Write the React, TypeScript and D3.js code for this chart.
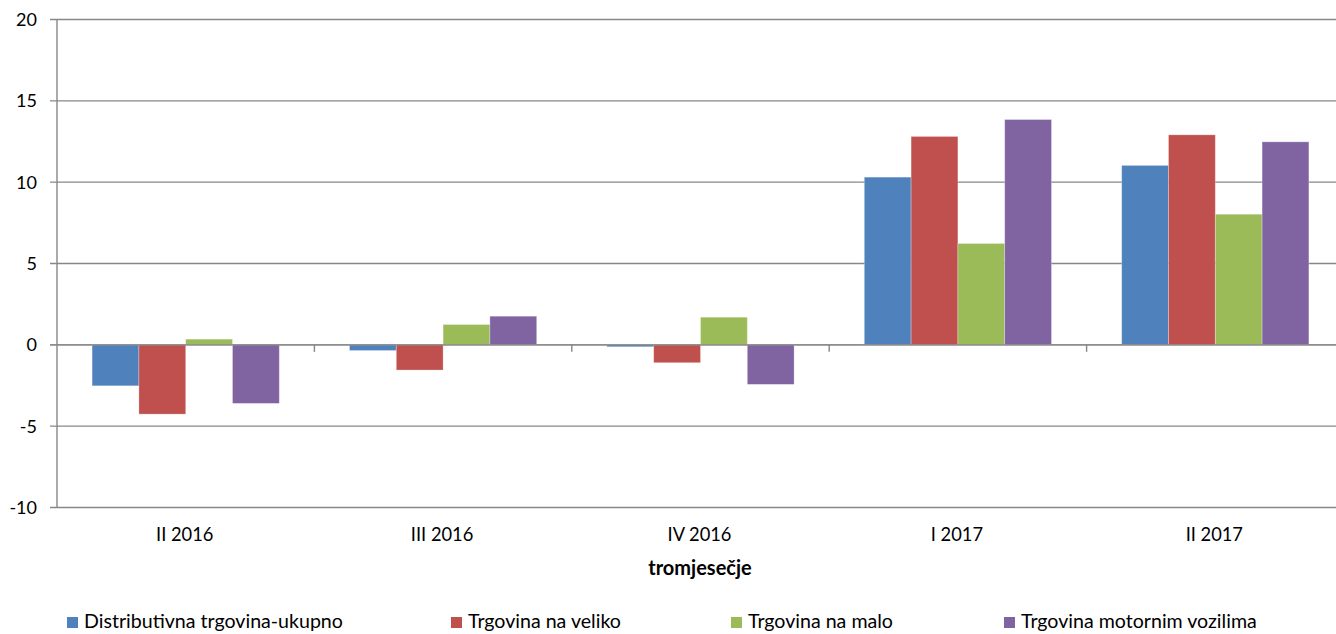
import * as d3 from "d3";

const categories = ["II 2016", "III 2016", "IV 2016", "I 2017", "II 2017"];
const seriesNames = [
  "Distributivna trgovina-ukupno",
  "Trgovina na veliko",
  "Trgovina na malo",
  "Trgovina motornim vozilima",
];
const ukupno = [-2.52, -0.35, -0.12, 10.31, 11.03];
const veliko = [-4.26, -1.55, -1.1, 12.81, 12.91];
const malo = [0.35, 1.25, 1.7, 6.23, 8.03];
const vozila = [-3.6, 1.76, -2.43, 13.85, 12.48];
const yTicks = [-10, -5, 0, 5, 10, 15, 20];
const colors = ["#4F81BD", "#C0504D", "#9BBB59", "#8064A2"];
const axisTitle = "tromjesečje";

const seriesValues = [ukupno, veliko, malo, vozila];

const W = 1336;
const H = 634;
const font = "Lato, 'Open Sans', sans-serif";

export default function App() {
  const x = d3.scaleBand().domain(categories).range([57, 1344]).paddingInner(0).paddingOuter(0);
  const xs = d3
    .scaleBand()
    .domain(seriesNames)
    .range([0, x.bandwidth()])
    .paddingInner(0)
    .paddingOuter(0.75);
  const y = d3.scaleLinear().domain([-10, 20]).range([507.5, 19.5]);

  const gridColor = "#878787";
  const legendX = [67, 451, 731, 1004];

  return (
    <div style={{ position: "absolute", left: 0, top: 0 }}>
      <svg width={W} height={H} style={{ display: "block", background: "#fff" }} fontFamily={font}>
        {/* grid lines */}
        {yTicks.map((t) => (
          <g key={`g-${t}`}>
            <line x1={50} x2={1344} y1={y(t)} y2={y(t)} stroke={gridColor} strokeWidth={1.4} />
            <text x={37} y={y(t)} dy="0.36em" textAnchor="end" fontSize={18} fill="#000">
              {t}
            </text>
          </g>
        ))}
        {/* bars */}
        {seriesNames.map((s, si) => (
          <g key={s} fill={colors[si]}>
            {categories.map((c, ci) => {
              const v = seriesValues[si][ci];
              const y0 = y(0);
              const y1 = y(v);
              return (
                <rect
                  key={c}
                  x={(x(c) ?? 0) + (xs(s) ?? 0)}
                  y={Math.min(y0, y1)}
                  width={xs.bandwidth()}
                  height={Math.abs(y1 - y0)}
                  stroke="#fff"
                  strokeOpacity={0.35}
                  strokeWidth={0.8}
                />
              );
            })}
          </g>
        ))}
        {/* zero axis and ticks */}
        <line x1={50} x2={1344} y1={y(0)} y2={y(0)} stroke={gridColor} strokeWidth={1.4} />
        {categories.slice(1).map((c) => (
          <line
            key={`t-${c}`}
            x1={x(c)}
            x2={x(c)}
            y1={y(0)}
            y2={y(0) + 7}
            stroke={gridColor}
            strokeWidth={1.4}
          />
        ))}
        {/* y axis line */}
        <line x1={57} x2={57} y1={y(20)} y2={y(-10)} stroke={gridColor} strokeWidth={1.4} />
        {/* category labels */}
        {categories.map((c) => (
          <text
            key={`l-${c}`}
            x={(x(c) ?? 0) + x.bandwidth() / 2 - 1}
            y={541}
            textAnchor="middle"
            fontSize={18.3}
            fill="#000"
          >
            {c}
          </text>
        ))}
        <text x={700} y={575} textAnchor="middle" fontSize={20} fontWeight="bold" fill="#000">
          {axisTitle}
        </text>
        {/* legend */}
        {seriesNames.map((s, si) => {
          const lx = legendX[si];
          return (
            <g key={`lg-${s}`}>
              <rect x={lx} y={617} width={11} height={11} fill={colors[si]} />
              <text x={lx + 17} y={628} fontSize={19.6} fill="#000">
                {s}
              </text>
            </g>
          );
        })}
      </svg>
    </div>
  );
}
